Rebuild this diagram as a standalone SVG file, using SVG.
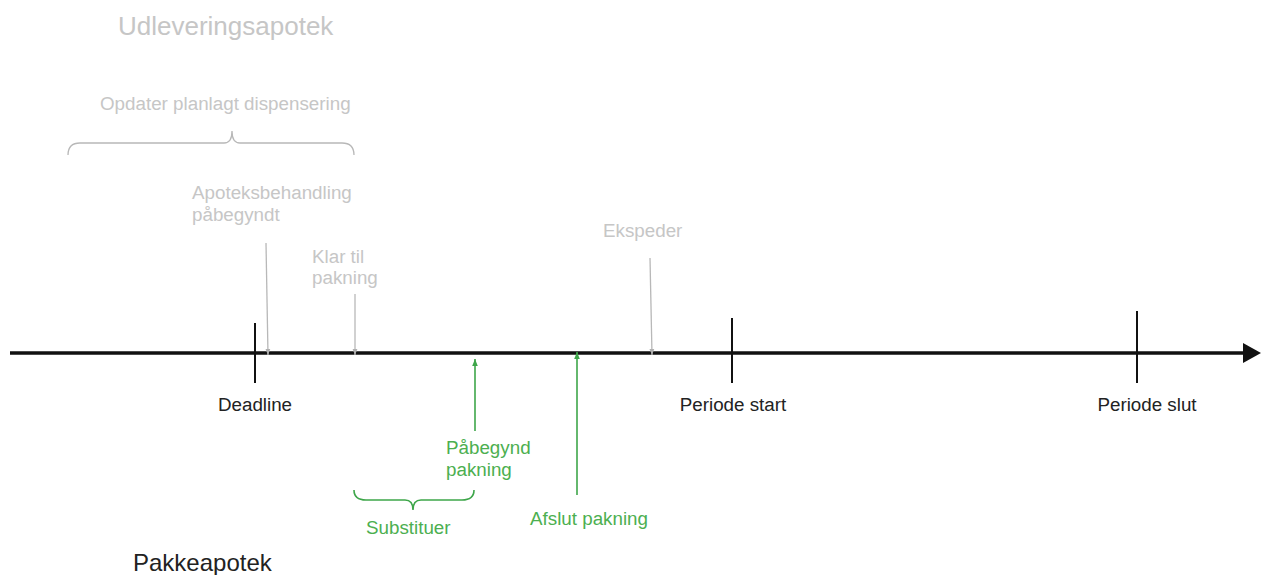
<svg xmlns="http://www.w3.org/2000/svg" width="1261" height="575" viewBox="0 0 1261 575">
<style>
text{font-family:"Liberation Sans",Arial,sans-serif;font-size:18.8px}
.g{fill:#c6c6c6}
.k{fill:#222}
.gr{fill:#4caf50}
.tick{stroke:#111;stroke-width:2}
.ga{stroke:#b8b8b8;stroke-width:1.3;fill:none}
.gn{stroke:#3ea64a;stroke-width:1.6;fill:none}
</style>
<defs>
<marker id="agrey" viewBox="0 0 10 10" refX="10" refY="5" markerWidth="6" markerHeight="6" markerUnits="userSpaceOnUse" orient="auto"><path d="M0,1 L10,5 L0,9 z" fill="#b0b0b0"/></marker>
<marker id="agreen" viewBox="0 0 10 10" refX="10" refY="5" markerWidth="7" markerHeight="7" markerUnits="userSpaceOnUse" orient="auto"><path d="M0,1 L10,5 L0,9 z" fill="#3ea64a"/></marker>
</defs>
<rect width="1261" height="575" fill="#fff"/>
<g id="connectors">
<line x1="10" y1="353" x2="1244" y2="353" stroke="#111" stroke-width="3.5"/>
<path d="M1243,343 L1261,353 L1243,363 z" fill="#111"/>
<line class="tick" x1="255" y1="323" x2="255" y2="383"/>
<line class="tick" x1="732" y1="318" x2="732" y2="383"/>
<line class="tick" x1="1137" y1="311" x2="1137" y2="383"/>
<line class="ga" x1="266" y1="243" x2="268" y2="355" marker-end="url(#agrey)"/>
<line class="ga" x1="355" y1="294" x2="355" y2="355" marker-end="url(#agrey)"/>
<line class="ga" x1="650" y1="258" x2="652" y2="355" marker-end="url(#agrey)"/>
<line class="gn" x1="475" y1="431" x2="475" y2="359" marker-end="url(#agreen)"/>
<line class="gn" x1="577" y1="495" x2="577" y2="352" marker-end="url(#agreen)"/>
<path class="ga" d="M68,155 Q68,143 80,143 L224,143 Q232,143 232,131 Q232,143 240,143 L342,143 Q354,143 354,155"/>
<path class="gn" d="M354,490 Q354,500 366,500 L405,500 Q413,500 413,510 Q413,500 421,500 L462,500 Q474,500 474,490"/>
</g>
<g id="title-udlevering"><text class="g" x="118" y="35" style="font-size:26px">Udleveringsapotek</text></g>
<g id="opdater"><text class="g" x="100" y="110">Opdater planlagt dispensering</text></g>
<g id="apoteksbehandling"><text class="g" x="192" y="199">Apoteksbehandling</text><text class="g" x="192" y="221">påbegyndt</text></g>
<g id="klar"><text class="g" x="312" y="263">Klar til</text><text class="g" x="312" y="284">pakning</text></g>
<g id="ekspeder"><text class="g" x="603" y="237">Ekspeder</text></g>
<g id="deadline"><text class="k" x="255" y="411" text-anchor="middle">Deadline</text></g>
<g id="periode-start"><text class="k" x="733" y="411" text-anchor="middle">Periode start</text></g>
<g id="periode-slut"><text class="k" x="1147" y="411" text-anchor="middle">Periode slut</text></g>
<g id="pabegynd"><text class="gr" x="446" y="454">Påbegynd</text><text class="gr" x="446" y="476">pakning</text></g>
<g id="substituer"><text class="gr" x="366" y="534">Substituer</text></g>
<g id="afslut"><text class="gr" x="530" y="525">Afslut pakning</text></g>
<g id="title-pakke"><text class="k" x="133" y="571" style="font-size:24px">Pakkeapotek</text></g>
</svg>
